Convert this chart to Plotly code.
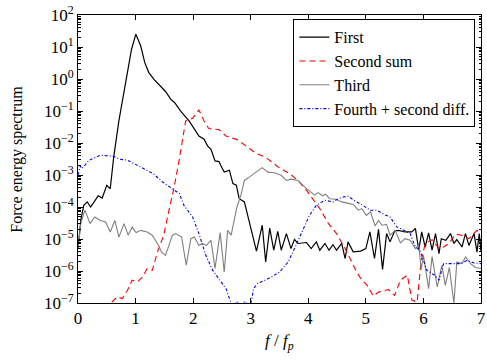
import numpy as np
import plotly.graph_objects as go

# ---- data (stored as log10 of the spectrum) ----
first_f = [0.0, 0.05, 0.10, 0.16, 0.22, 0.35, 0.42, 0.50, 0.56, 0.62, 0.71, 0.80, 0.93, 1.005,
           1.09, 1.16, 1.23, 1.32, 1.40, 1.47, 1.52, 1.61, 1.68, 1.79, 1.93, 2.10, 2.19, 2.25,
           2.31, 2.38, 2.45, 2.48, 2.54, 2.63, 2.69, 2.75, 2.80, 2.89, 2.98, 3.04, 3.10, 3.20,
           3.26, 3.33, 3.40, 3.47, 3.53, 3.62, 3.70, 3.76, 3.82, 3.97, 4.05, 4.14, 4.20, 4.29,
           4.36, 4.43, 4.49, 4.58, 4.64, 4.69, 4.78, 4.91, 5.00, 5.07, 5.15, 5.22, 5.29, 5.36,
           5.42, 5.50, 5.57, 5.68, 5.80, 5.86, 5.92, 5.97, 6.03, 6.09, 6.15, 6.21, 6.27, 6.31,
           6.39, 6.47, 6.53, 6.58, 6.67, 6.73, 6.79, 6.88, 6.93, 6.97, 7.0]
first_log = [-5.3, -4.4, -3.95, -3.84, -4.0, -3.65, -3.72, -3.32, -3.43, -2.44, -1.31, -0.43, 0.93, 1.40,
             1.03, 0.51, 0.20, -0.01, -0.17, -0.32, -0.39, -0.63, -0.74, -1.02, -1.31, -1.78, -1.88, -2.09,
             -2.20, -2.56, -2.58, -2.70, -2.91, -2.85, -3.27, -3.32, -3.74, -3.84, -4.47, -4.88, -5.38, -4.57,
             -5.72, -4.66, -5.35, -4.76, -5.35, -4.83, -5.30, -5.01, -5.14, -5.11, -5.30, -5.09, -5.35, -5.14,
             -5.35, -5.18, -5.35, -5.14, -5.61, -5.09, -5.40, -5.38, -5.30, -4.78, -5.61, -4.70, -5.95, -4.83,
             -5.09, -4.75, -4.73, -4.78, -4.78, -4.67, -5.35, -4.78, -5.25, -4.81, -5.35, -4.83, -5.46, -4.99,
             -5.04, -4.83, -5.14, -5.02, -5.25, -4.83, -5.20, -4.83, -5.41, -4.83, -5.40]

second_f = [0.40, 0.56, 0.68, 0.77, 0.86, 0.94, 1.03, 1.12, 1.20, 1.29, 1.38, 1.49, 1.58, 1.67, 1.76,
            1.87, 1.99, 2.10, 2.19, 2.27, 2.45, 2.57, 2.77, 2.92, 3.09, 3.27, 3.44, 3.50, 3.68, 3.82,
            3.97, 4.05, 4.20, 4.35, 4.49, 4.64, 4.75, 4.84, 4.93, 5.01, 5.13, 5.22, 5.39, 5.50, 5.60,
            5.72, 5.80, 5.89, 5.96, 6.03, 6.15, 6.27, 6.35, 6.44, 6.56, 6.67, 6.79, 6.93, 7.0]
second_log = [-7.5, -7.02, -6.81, -6.86, -6.60, -6.29, -6.34, -6.19, -5.93, -5.98, -5.41, -4.88, -4.10, -3.38, -2.50,
              -1.31, -1.23, -0.97, -1.31, -1.55, -1.58, -1.78, -1.90, -2.10, -2.32, -2.46, -2.70, -2.78, -2.96, -3.17,
              -3.48, -3.69, -4.05, -4.52, -4.83, -5.30, -5.72, -6.03, -6.29, -6.42, -6.78, -6.66, -6.58, -6.76, -6.29,
              -6.13, -6.91, -6.97, -5.70, -5.15, -5.02, -5.30, -5.25, -5.14, -4.85, -4.88, -4.99, -4.73, -4.83]

third_f = [0.0, 0.05, 0.12, 0.21, 0.29, 0.39, 0.48, 0.56, 0.64, 0.71, 0.80, 0.87, 0.94, 1.01, 1.09,
           1.20, 1.29, 1.40, 1.45, 1.52, 1.64, 1.70, 1.80, 1.88, 1.96, 2.02, 2.10, 2.16, 2.23, 2.31,
           2.38, 2.47, 2.54, 2.60, 2.66, 2.76, 2.83, 2.89, 2.98, 3.09, 3.20, 3.30, 3.41, 3.53, 3.62,
           3.70, 3.82, 3.94, 4.02, 4.11, 4.17, 4.25, 4.30, 4.37, 4.48, 4.58, 4.68, 4.78, 4.87, 4.93,
           5.01, 5.08, 5.16, 5.22, 5.28, 5.36, 5.42, 5.51, 5.60, 5.68, 5.77, 5.86, 5.92, 5.96, 6.00,
           6.09, 6.15, 6.24, 6.32, 6.38, 6.45, 6.53, 6.58, 6.67, 6.73, 6.82, 6.90, 7.0]
third_log = [-5.3, -4.5, -4.10, -4.52, -4.31, -4.42, -4.47, -4.78, -4.42, -4.94, -4.52, -4.88, -4.63, -4.80, -4.73,
             -4.78, -4.88, -5.20, -5.41, -5.51, -4.88, -4.83, -4.94, -5.82, -4.99, -4.94, -5.20, -5.14, -5.20, -5.04,
             -5.92, -4.80, -6.03, -4.73, -4.88, -4.00, -3.63, -3.17, -3.06, -2.91, -2.77, -2.91, -2.93, -3.01, -3.17,
             -3.13, -3.17, -3.38, -3.50, -3.63, -3.55, -3.65, -3.60, -3.74, -3.76, -3.84, -3.88, -3.92, -4.10, -4.05,
             -4.26, -4.15, -4.59, -4.42, -4.57, -4.54, -4.88, -4.73, -5.12, -4.99, -5.04, -5.30, -5.20, -5.95, -5.51,
             -6.55, -5.55, -6.50, -5.82, -6.45, -5.89, -7.0, -5.72, -5.77, -5.56, -5.77, -5.89, -5.92]

fourth_f = [0.0, 0.04, 0.07, 0.19, 0.39, 0.62, 0.71, 0.86, 1.12, 1.30, 1.47, 1.64, 1.76, 1.84, 1.99,
            2.10, 2.22, 2.34, 2.45, 2.57, 2.63, 2.69, 2.76, 2.83, 2.90, 2.96, 3.01, 3.05, 3.12, 3.24,
            3.36, 3.50, 3.65, 3.76, 3.91, 4.02, 4.14, 4.29, 4.43, 4.52, 4.61, 4.69, 4.80, 4.95, 5.07,
            5.19, 5.33, 5.42, 5.54, 5.60, 5.77, 5.86, 5.94, 6.06, 6.21, 6.27, 6.35, 6.50, 6.64, 6.76,
            6.88, 7.0]
fourth_log = [-3.0, -2.72, -2.80, -2.54, -2.38, -2.42, -2.50, -2.54, -2.78, -2.95, -3.22, -3.43, -3.58, -3.95, -4.31,
              -4.83, -5.51, -5.98, -6.24, -6.55, -6.86, -7.15, -6.95, -7.05, -6.95, -7.10, -6.97, -6.55, -6.39, -6.29,
              -6.19, -6.03, -5.72, -5.30, -4.67, -4.26, -3.95, -3.79, -3.84, -3.74, -3.69, -3.66, -3.80, -3.95, -4.10,
              -4.10, -4.25, -4.31, -4.63, -4.67, -4.83, -5.25, -5.35, -5.98, -6.15, -6.29, -5.77, -5.77, -5.77, -5.67,
              -5.75, -5.77]

series_names = ["First", "Second sum", "Third", "Fourth + second diff."]

x_tick_vals = [0, 1, 2, 3, 4, 5, 6, 7]
x_tick_text = ["0", "1", "2", "3", "4", "5", "6", "7"]
y_tick_exps = [2, 1, 0, -1, -2, -3, -4, -5, -6, -7]
y_tick_text = ["10<sup>2</sup>", "10<sup>1</sup>", "10<sup>0</sup>", "10<sup>\u22121</sup>",
               "10<sup>\u22122</sup>", "10<sup>\u22123</sup>", "10<sup>\u22124</sup>",
               "10<sup>\u22125</sup>", "10<sup>\u22126</sup>", "10<sup>\u22127</sup>"]

FONT = "Liberation Serif"

fig = go.Figure()
styles = [
    dict(color="black", width=1.2, dash="solid"),
    dict(color="red", width=1.1, dash="6px,4px"),
    dict(color="#7f7f7f", width=1.1, dash="solid"),
    dict(color="blue", width=1.1, dash="3px,2px,1px,2px"),
]
data = [(first_f, first_log), (second_f, second_log), (third_f, third_log), (fourth_f, fourth_log)]
for (fx, fl), name, st in zip(data, series_names, styles):
    fig.add_trace(go.Scatter(x=fx, y=10 ** np.array(fl, dtype=float), mode="lines",
                             name=name, line=st))

minor_vals = [m * 10.0 ** k for k in range(-7, 2) for m in range(2, 10)]

fig.update_layout(
    width=487, height=360,
    margin=dict(l=78, r=6, t=15, b=57, autoexpand=False),
    paper_bgcolor="white", plot_bgcolor="white",
    font=dict(family=FONT, size=16, color="black"),
    showlegend=True,
    legend=dict(x=0.986, y=0.985, xanchor="right", yanchor="top",
                bgcolor="white", bordercolor="black", borderwidth=1,
                font=dict(family=FONT, size=16, color="black"), tracegroupgap=0, itemwidth=30),
    xaxis=dict(range=[0, 7], tickmode="array", tickvals=x_tick_vals, ticktext=x_tick_text,
               ticks="inside", ticklen=5, tickcolor="black", showline=True, linecolor="black",
               linewidth=1, mirror="ticks", showgrid=False, zeroline=False, automargin=False,
               tickfont=dict(family=FONT, size=17, color="black")),
    yaxis=dict(type="log", range=[-7, 2], tickmode="array",
               tickvals=[10.0 ** e for e in y_tick_exps], ticktext=y_tick_text,
               ticks="inside", ticklen=5, tickcolor="black", showline=True, linecolor="black",
               linewidth=1, mirror="ticks", showgrid=False, zeroline=False, automargin=False,
               tickfont=dict(family=FONT, size=17, color="black"),
               minor=dict(tickmode="array", tickvals=minor_vals, ticks="inside", ticklen=2.5,
                          tickcolor="black", showgrid=False)),
    annotations=[
        dict(text="<i>f</i> / <i>f</i><sub><i>p</i></sub>", xref="paper", yref="paper",
             x=0.5, y=-0.135, xanchor="center", yanchor="middle", showarrow=False,
             font=dict(family=FONT, size=17, color="black")),
        dict(text="Force energy spectrum", xref="paper", yref="paper",
             x=-0.152, y=0.5, xanchor="center", yanchor="middle", showarrow=False,
             textangle=-90, font=dict(family=FONT, size=16, color="black")),
    ],
)

fig.write_html("out.html", config={"displayModeBar": False},
               post_script="document.body.style.margin='0px';")
